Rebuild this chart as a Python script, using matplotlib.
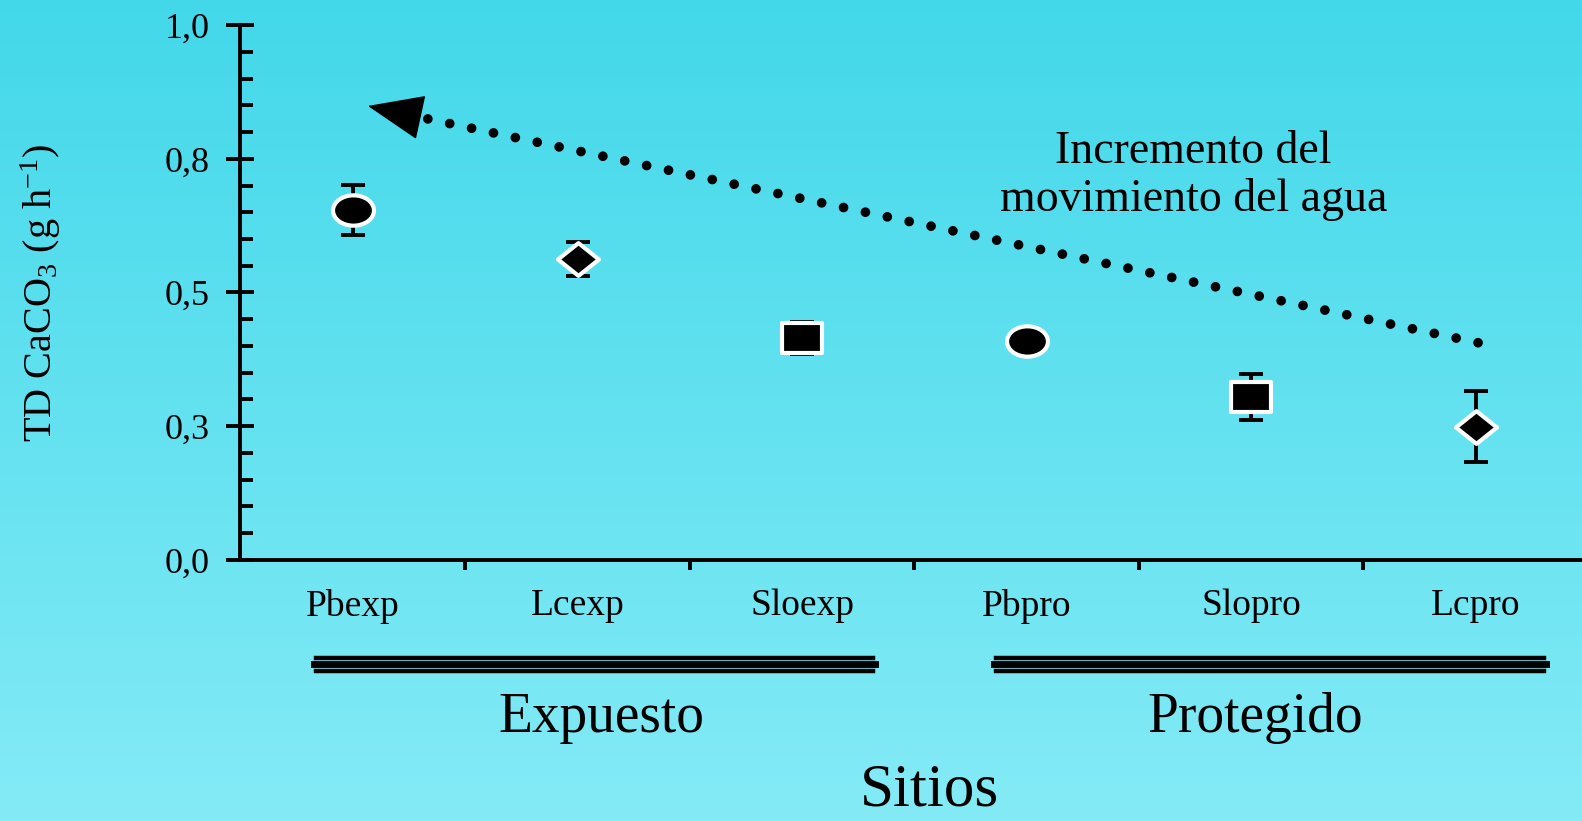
import matplotlib
matplotlib.use("Agg")
import matplotlib.pyplot as plt
import numpy as np
from matplotlib.colors import LinearSegmentedColormap
from matplotlib.path import Path
from matplotlib.ticker import FixedLocator, MultipleLocator

plt.rcParams["font.family"] = "serif"
plt.rcParams["font.serif"] = ["Liberation Serif", "DejaVu Serif"]
plt.rcParams["mathtext.fontset"] = "custom"
plt.rcParams["mathtext.rm"] = "Liberation Serif"
plt.rcParams["mathtext.it"] = "Liberation Serif:italic"

# data
sites = ["Pbexp", "Lcexp", "Sloexp", "Pbpro", "Slopro", "Lcpro"]
td_values = [0.655, 0.562, 0.415, 0.410, 0.304, 0.249]
td_errors = [0.047, 0.032, 0.030, 0.010, 0.043, 0.067]
site_shapes = ["ellipse", "diamond", "square", "ellipse", "square", "diamond"]

y_ticks = [0.0, 0.25, 0.5, 0.75, 1.0]
y_tick_labels = ["0,0", "0,3", "0,5", "0,8", "1,0"]

groups = ["Expuesto", "Protegido"]
group_spans = [(-0.166, 2.315), (2.863, 5.303)]
group_centers = [1.106, 4.02]

arrow_text = "Incremento del\nmovimiento del agua"
arrow_tail = (5.011, 0.406)
arrow_base = (0.296, 0.828)
arrow_tip = (0.066, 0.849)

BG_TOP = "#42d8ea"
BG_BOTTOM = "#84ebf6"


def shape_path(kind):
    # the slide was stretched sideways, so every marker is wider than tall
    if kind == "ellipse":
        circ = Path.unit_circle()
        return Path(circ.vertices * [1.35, 1.0], circ.codes)
    if kind == "square":
        return Path([(-1.34, -1), (1.34, -1), (1.34, 1), (-1.34, 1), (-1.34, -1)], closed=True)
    return Path([(-1.25, 0), (0, 1), (1.25, 0), (0, -1), (-1.25, 0)], closed=True)


fig = plt.figure(figsize=(15.82, 8.21), dpi=100)

# vertical gradient background
bg = fig.add_axes([0, 0, 1, 1], zorder=-10)
grad_cmap = LinearSegmentedColormap.from_list("bg", [BG_TOP, BG_BOTTOM])
bg.imshow(np.linspace(0, 1, 256).reshape(-1, 1), aspect="auto", cmap=grad_cmap,
          extent=[0, 1, 0, 1], origin="upper")
bg.axis("off")

ax = fig.add_axes([0.1518, 0.3182, 0.8482, 0.6511])
ax.set_facecolor("none")
x = np.arange(len(sites))

for xi, val, err, shape in zip(x, td_values, td_errors, site_shapes):
    ax.errorbar(xi, val, yerr=err, fmt="none", ecolor="black", elinewidth=2.8,
                capsize=8.5, capthick=2.8, zorder=3)
    ax.plot(xi, val, linestyle="none", marker=shape_path(shape), markersize=29.5,
            markerfacecolor="black", markeredgecolor="white", markeredgewidth=3.0, zorder=4)

# dotted trend arrow
ax.plot([arrow_tail[0], arrow_base[0]], [arrow_tail[1], arrow_base[1]], color="black",
        linewidth=7, linestyle=(0, (0.001, 2.3)), dash_capstyle="round", zorder=2)
ax.annotate("", xy=arrow_tip, xytext=arrow_base,
            arrowprops=dict(arrowstyle="-|>,head_length=37,head_width=15", mutation_scale=1,
                            color="black", lw=1, shrinkA=0, shrinkB=0))
ax.text(3.744, 0.718, arrow_text, ha="center", va="center", fontsize=33, linespacing=1.15)

ax.set_xlim(-0.503, 5.474)
ax.set_ylim(0, 1.0)

ax.spines["top"].set_visible(False)
ax.spines["right"].set_visible(False)
ax.spines["left"].set_linewidth(2.8)
ax.spines["bottom"].set_linewidth(2.8)

ax.yaxis.set_major_locator(FixedLocator(y_ticks))
ax.set_yticklabels(y_tick_labels)
ax.yaxis.set_minor_locator(MultipleLocator(0.05))
ax.tick_params(axis="y", which="major", direction="inout", length=20, width=2.8,
               labelsize=26, pad=12)
ax.tick_params(axis="y", which="minor", direction="in", length=9, width=2.8)

ax.set_xticks(x)
ax.set_xticklabels(sites)
ax.xaxis.set_minor_locator(FixedLocator(x[:-1] + 0.5))
ax.tick_params(axis="x", which="major", length=0, labelsize=27, pad=21)
ax.tick_params(axis="x", which="minor", direction="out", length=7, width=2.8)

ax.set_ylabel("TD CaCO$_3$ (g h$^{-1}$)", fontsize=29)
ax.yaxis.set_label_coords(-0.132, 0.5)

# group brackets below the axis: three stacked bars each
xtr = ax.get_xaxis_transform()
for (x0, x1), name, cx in zip(group_spans, groups, group_centers):
    ax.plot([x0, x1], [-0.183, -0.183], transform=xtr, color="black", lw=3.2, clip_on=False)
    ax.plot([x0 - 0.01, x1 + 0.01], [-0.195, -0.195], transform=xtr, color="black", lw=5,
            clip_on=False)
    ax.plot([x0, x1], [-0.208, -0.208], transform=xtr, color="black", lw=3.2, clip_on=False)
    ax.text(cx, -0.296, name, transform=xtr, ha="center", va="center", fontsize=40)

ax.text(2.566, -0.432, "Sitios", transform=xtr, ha="center", va="center", fontsize=44)

fig.savefig("out.png", dpi=100)
